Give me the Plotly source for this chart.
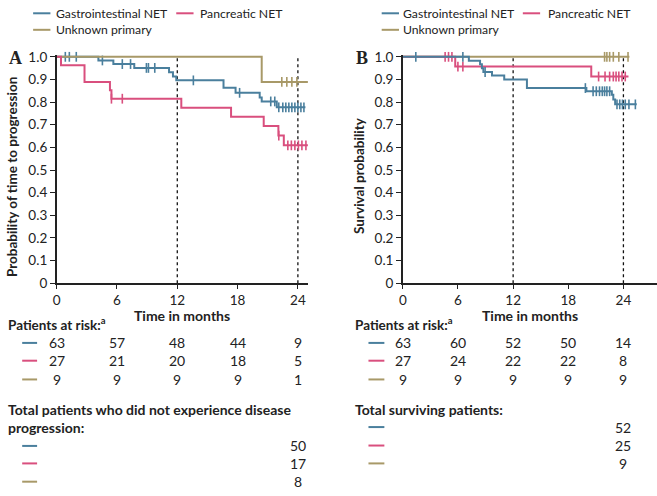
import plotly.graph_objects as go

W, H = 657, 496

# ---------------- data ----------------
series_names = ["Gastrointestinal NET", "Pancreatic NET", "Unknown primary"]
colors = ["#4a7f9d", "#d94f7e", "#a89968"]
month_ticks = [0, 6, 12, 18, 24]
y_ticks = [0, 0.1, 0.2, 0.3, 0.4, 0.5, 0.6, 0.7, 0.8, 0.9, 1.0]
y_ticktext = ["0", "0.1", "0.2", "0.3", "0.4", "0.5", "0.6", "0.7", "0.8", "0.9", "1.0"]

# Panel A - time to progression
a_gi_event_t = [4.15, 5.64, 7.72, 11.18, 11.57, 11.9, 16.6, 17.8, 20.2, 20.4, 21.9]
a_gi_surv = [0.984, 0.968, 0.951, 0.932, 0.913, 0.896, 0.863, 0.841, 0.82, 0.803, 0.777]
a_gi_censor = [0.86, 1.26, 1.95, 4.55, 6.53, 7.35, 8.93, 9.13, 9.76, 13.6, 18.2, 21.3, 21.7,
               22.1, 22.5, 22.8, 23.1, 23.4, 23.7, 24.0, 24.3, 24.6]
a_gi_end = 24.75

a_pan_event_t = [0.43, 2.77, 5.3, 5.45, 12.4, 17.35, 20.6, 22.06, 22.6]
a_pan_surv = [0.963, 0.889, 0.852, 0.815, 0.775, 0.735, 0.695, 0.652, 0.609]
a_pan_censor = [5.45, 6.53, 22.1, 23.0, 23.35, 23.7, 24.05, 24.4, 24.8]
a_pan_end = 25.0

a_unk_event_t = [20.4]
a_unk_surv = [0.889]
a_unk_censor = [22.4, 22.9, 23.4, 23.9]
a_unk_end = 25.0

a_at_risk = [[63, 57, 48, 44, 9], [27, 21, 20, 18, 5], [9, 9, 9, 9, 1]]
a_totals = [50, 17, 8]

# Panel B - overall survival
b_gi_event_t = [7.18, 8.4, 8.6, 8.76, 9.7, 11.03, 13.5, 19.97, 22.74, 22.9, 23.1]
b_gi_surv = [0.983, 0.967, 0.95, 0.933, 0.917, 0.9, 0.862, 0.848, 0.832, 0.812, 0.79]
b_gi_censor = [1.41, 6.53, 8.95, 19.86, 20.7, 21.05, 21.4, 21.7, 21.95, 22.2, 22.5,
               23.3, 23.6, 23.9, 24.2, 24.6, 25.3]
b_gi_end = 25.45

b_pan_event_t = [5.7, 20.5]
b_pan_surv = [0.957, 0.913]
b_pan_censor = [4.6, 4.97, 5.34, 5.99, 6.53, 21.3, 22.0, 22.5, 22.9, 23.2, 23.5, 23.85, 24.2]
b_pan_end = 24.55

b_unk_event_t = []
b_unk_surv = []
b_unk_censor = [21.95, 22.2, 22.5, 22.9, 23.5, 24.5]
b_unk_end = 24.65

b_at_risk = [[63, 60, 52, 50, 14], [27, 24, 22, 22, 8], [9, 9, 9, 9, 9]]
b_totals = [52, 25, 9]

# ---------------- helpers ----------------
FONT = "Lato"


def px(x):
    return x / W


def py(y):
    return 1 - y / H


def step_val(t, ev_t, surv):
    v = 1.0
    for et, s in zip(ev_t, surv):
        if t >= et:
            v = s
    return v


fig = go.Figure()


def add_curve(ev_t, surv, censor, end, color, xa, ya):
    xs = [0] + list(ev_t) + [end]
    ys = [1.0] + list(surv) + [surv[-1] if surv else 1.0]
    fig.add_trace(go.Scatter(x=xs, y=ys, mode="lines", line=dict(color=color, width=2, shape="hv"),
                             xaxis=xa, yaxis=ya, showlegend=False, hoverinfo="skip"))
    cy = [step_val(t, ev_t, surv) for t in censor]
    fig.add_trace(go.Scatter(x=censor, y=cy, mode="markers",
                             marker=dict(symbol="line-ns-open", size=7, color=color,
                                         line=dict(color=color, width=1.6)),
                             xaxis=xa, yaxis=ya, showlegend=False, hoverinfo="skip", cliponaxis=False))


# Panel A (blue, tan, pink order)
add_curve(a_gi_event_t, a_gi_surv, a_gi_censor, a_gi_end, colors[0], "x", "y")
add_curve(a_unk_event_t, a_unk_surv, a_unk_censor, a_unk_end, colors[2], "x", "y")
add_curve(a_pan_event_t, a_pan_surv, a_pan_censor, a_pan_end, colors[1], "x", "y")
# Panel B (tan, pink, blue order)
add_curve(b_unk_event_t, b_unk_surv, b_unk_censor, b_unk_end, colors[2], "x2", "y2")
add_curve(b_pan_event_t, b_pan_surv, b_pan_censor, b_pan_end, colors[1], "x2", "y2")
add_curve(b_gi_event_t, b_gi_surv, b_gi_censor, b_gi_end, colors[0], "x2", "y2")

# axes geometry (pixels)
Y0, Y1 = 285.3, 52.3           # pixel rows of y=0 and y=1.0
YTOP = 1.008
ytop_px = Y0 - (Y0 - Y1) * YTOP
axA = dict(x0=53.0, x1=305.8, rng=25.0)
axB = dict(x0=401.3, x1=656.5, rng=27.6)

common_x = dict(tickvals=month_ticks, ticks="outside", ticklen=4, tickwidth=1.3, tickcolor="#222",
                showline=True, linecolor="#222", linewidth=1.5, showgrid=False, zeroline=False,
                tickfont=dict(family=FONT, size=13.5, color="#222"), fixedrange=True)
common_y = dict(tickvals=y_ticks, ticktext=y_ticktext, ticks="outside", ticklen=5, tickwidth=1.3,
                tickcolor="#222", showline=True, linecolor="#222", linewidth=1.5, showgrid=False,
                zeroline=False, tickfont=dict(family=FONT, size=13.5, color="#222"), fixedrange=True,
                range=[0, YTOP])

fig.update_layout(
    width=W, height=H, margin=dict(l=0, r=0, t=0, b=0),
    paper_bgcolor="white", plot_bgcolor="white",
    xaxis=dict(domain=[px(axA["x0"]), px(axA["x1"])], range=[0, axA["rng"]], anchor="y", **common_x),
    yaxis=dict(domain=[py(Y0), py(ytop_px)], anchor="x", **common_y),
    xaxis2=dict(domain=[px(axB["x0"]), px(axB["x1"])], range=[0, axB["rng"]], anchor="y2", **common_x),
    yaxis2=dict(domain=[py(Y0), py(ytop_px)], anchor="x2", **common_y),
    showlegend=False,
)

shapes = []
annots = []

# dotted reference lines at 12 and 24 months
for xa, ya in (("x", "y"), ("x2", "y2")):
    for t in (12, 24):
        shapes.append(dict(type="line", xref=xa, yref=ya, x0=t, x1=t, y0=0, y1=1.0,
                           line=dict(color="#111", width=1.3, dash="dot"), layer="below"))


def text(x, y, s, size=13, bold=False, xanchor="left", xref="paper", family=FONT, angle=0):
    annots.append(dict(x=x, y=y, xref=xref, yref="paper", text=(f"<b>{s}</b>" if bold else s),
                       showarrow=False, xanchor=xanchor, yanchor="middle", textangle=angle,
                       font=dict(family=family, size=size, color="#222")))


def dash(x0, x1, y, color):
    shapes.append(dict(type="line", xref="paper", yref="paper", x0=px(x0), x1=px(x1), y0=py(y), y1=py(y),
                       line=dict(color=color, width=2)))


# legends
for (lx0, tx_a, lx_p0, tx_p) in ((29.3, 50.0, 173.3, 195.0), (380.0, 399.3, 522.0, 545.0)):
    dash(lx0, lx0 + 17.4, 7.5, colors[0])
    text(px(tx_a), py(7.5), series_names[0], size=12.2)
    dash(lx_p0, lx_p0 + 17.4, 7.5, colors[1])
    text(px(tx_p), py(7.5), series_names[1], size=12.2)
    dash(lx0, lx0 + 17.4, 24.5, colors[2])
    text(px(tx_a), py(24.5), series_names[2], size=12.2)

# panel letters
text(px(12), py(54), "A", size=18, bold=True, xanchor="center", family="Liberation Serif")
text(px(360), py(54), "B", size=18, bold=True, xanchor="center", family="Liberation Serif")

# axis titles
text(px(8), py(176), "Probability of time to progression", size=13.5, bold=True, xanchor="center", angle=-90)
text(px(357), py(174), "Survival probability", size=13.5, bold=True, xanchor="center", angle=-90)
text(px(179), py(319), "Time in months", size=14, bold=True, xanchor="center")
text(px(529), py(318), "Time in months", size=14, bold=True, xanchor="center")

# risk tables
row_y = [346.7, 365.0, 384.3]
text(px(2), py(327.5), "Patients at risk:<sup>a</sup>", size=13.5, bold=True)
text(px(351), py(327.5), "Patients at risk:<sup>a</sup>", size=13.5, bold=True)
for i in range(3):
    dash(18.3, 33.3, row_y[i], colors[i])
    dash(366.7, 382.7, row_y[i], colors[i])
    for j, t in enumerate(month_ticks):
        text(t, py(row_y[i]), str(a_at_risk[i][j]), size=14, xanchor="center", xref="x")
        text(t, py(row_y[i]), str(b_at_risk[i][j]), size=14, xanchor="center", xref="x2")

# totals
text(px(2), py(415), "Total patients who did not experience disease", size=14, bold=True)
text(px(2), py(433.3), "progression:", size=14, bold=True)
a_tot_y = [452.7, 470.7, 489.5]
for i in range(3):
    dash(18.3, 33.3, a_tot_y[i], colors[i])
    text(24, py(a_tot_y[i]), str(a_totals[i]), size=14, xanchor="center", xref="x")

text(px(351), py(415), "Total surviving patients:", size=14, bold=True)
b_tot_y = [433.3, 452.3, 470.7]
for i in range(3):
    dash(366.7, 382.7, b_tot_y[i], colors[i])
    text(24, py(b_tot_y[i]), str(b_totals[i]), size=14, xanchor="center", xref="x2")

fig.update_layout(shapes=shapes, annotations=annots)
fig.write_html("out.html", config=dict(displayModeBar=False),
               post_script="document.body.style.margin='0';document.body.style.overflow='hidden';")
